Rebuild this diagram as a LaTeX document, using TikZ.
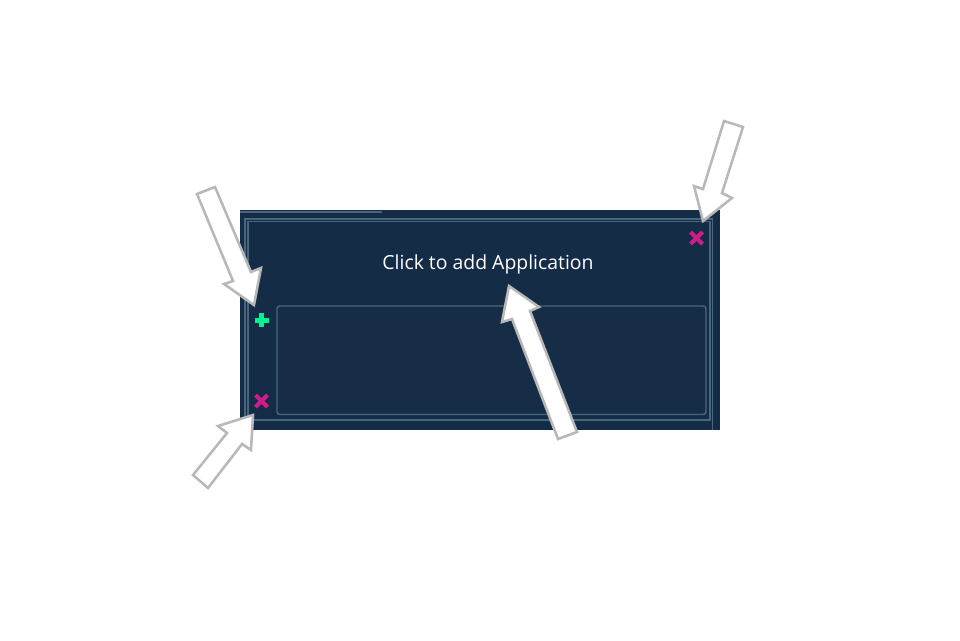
\documentclass[tikz,border=0pt]{standalone}
\usepackage{fontspec}
\setmainfont{Open Sans}
\definecolor{panelblue}{HTML}{142C46}
\definecolor{boxblue}{HTML}{172D47}
\definecolor{framegray}{HTML}{4A6580}
\definecolor{arrowgray}{HTML}{B8B8B8}
\definecolor{plusgreen}{HTML}{00F58F}
\definecolor{crossred}{HTML}{D01C8B}
\tikzset{
  callout/.style={draw=arrowgray, fill=white, line width=1.8pt, line join=miter},
  frameline/.style={draw=framegray, line width=1.05pt},
  plusmark/.style={draw=plusgreen, line width=3.4pt},
  crossmark/.style={draw=crossred, line width=3pt}
}
\begin{document}
\begin{tikzpicture}[x=0.025cm, y=-0.025cm]
    \useasboundingbox (0,0) rectangle (960,640);

    \fill[panelblue] (240,210) rectangle (720,430);
    \fill[framegray] (240,210.5) rectangle (382,212.5);

    \draw[frameline] (245,430) -- (245,219) -- (712.7,219) -- (712.7,430);
    \draw[frameline] (248,420) -- (248,221.5) -- (710,221.5) -- (710,420) -- cycle;
    \draw[frameline, fill=boxblue, rounded corners=2pt] (277,306) rectangle (706,414.5);

    \node[text=white, font=\fontsize{13.8pt}{16pt}\selectfont] (title) at (488,264) {Click to add Application};

    % plus and the two crosses
    \draw[plusmark] (254.7,320.2) -- (268.7,320.2) (261.7,313.2) -- (261.7,327.2);
    \draw[crossmark] (255.5,395) -- (267.5,407) (267.5,395) -- (255.5,407);
    \draw[crossmark] (690.5,232) -- (702.5,244) (702.5,232) -- (690.5,244);

    % arrows
    \draw[callout] (197,194) -- (215,187) -- (251,272) -- (261,268) -- (254,305) -- (224,284) -- (233,281) -- cycle;
    \draw[callout] (253,415) -- (218,426) -- (227,433) -- (193,475) -- (208,488) -- (242,444) -- (251,450) -- cycle;
    \draw[callout] (724,121) -- (743,127) -- (722,193) -- (732,198) -- (703,221) -- (694,186) -- (703,189) -- cycle;
    \draw[callout] (509,286) -- (539,307) -- (530,311) -- (577,432) -- (558,439) -- (512,319) -- (502,322) -- cycle;
\end{tikzpicture}
\end{document}
